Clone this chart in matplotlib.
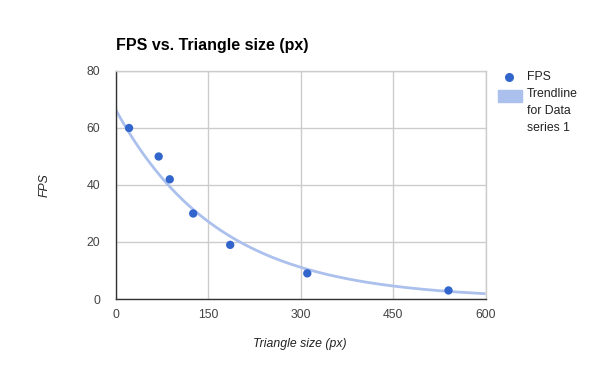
import numpy as np
import matplotlib.pyplot as plt
from matplotlib.patches import Rectangle
from matplotlib.lines import Line2D

plt.rcParams['font.family'] = ['Liberation Sans', 'DejaVu Sans']

tri_size = [22, 70, 88, 126, 186, 311, 540]
fps = [60, 50, 42, 30, 19, 9, 3]
x_ticks = [0, 150, 300, 450, 600]
y_ticks = [0, 20, 40, 60, 80]

BLUE, TREND, GRID, AXIS, TEXT = '#3366CC', '#ABC0EC', '#CCCCCC', '#333333', '#444444'

# exponential trendline fitted to the data (least squares on log y)
slope, icpt = np.polyfit(tri_size, np.log(fps), 1)
xs = np.linspace(0, 600, 200)
trend = np.exp(icpt + slope * xs)

W, H = 600, 371
fig = plt.figure(figsize=(6, 3.71), dpi=100)
ax = fig.add_axes([115.5 / W, 1 - 299 / H, 370 / W, 228 / H])

ax.plot(xs, trend, color=TREND, lw=2, zorder=2, solid_capstyle='butt')
ax.scatter(tri_size, fps, s=36, color=BLUE, edgecolors='none', zorder=3, clip_on=False)

ax.set_xlim(0, 600)
ax.set_ylim(0, 80)
ax.set_xticks(x_ticks)
ax.set_yticks(y_ticks)
ax.tick_params(length=0, labelsize=8.8, colors=TEXT)
ax.tick_params(axis='y', pad=11)
ax.tick_params(axis='x', pad=7)
ax.grid(True, color=GRID, lw=1)
ax.set_axisbelow(True)
for s in ['top', 'right']:
    ax.spines[s].set_color(GRID)
    ax.spines[s].set_linewidth(1)
for s in ['left', 'bottom']:
    ax.spines[s].set_color(AXIS)
    ax.spines[s].set_linewidth(1)

fig.text(116 / W, 1 - 50 / H, 'FPS vs. Triangle size (px)', fontsize=11.5, fontweight='bold', color='#000000', ha='left', va='baseline')
fig.text(300 / W, 1 - 344 / H, 'Triangle size (px)', fontsize=8.8, style='italic', color='#222222', ha='center', va='center')
fig.text(45 / W, 1 - 185 / H, 'FPS', fontsize=8.8, style='italic', color='#222222', ha='center', va='center', rotation=90)

# legend
fig.add_artist(Line2D([509 / W], [1 - 76.5 / H], marker='o', ms=6.5, color=BLUE, mec='none', transform=fig.transFigure))
fig.text(527 / W, 1 - 76.5 / H, 'FPS', fontsize=8.8, color='#222222', ha='left', va='center')
fig.add_artist(Rectangle((498 / W, 1 - 102 / H), 24 / W, 12 / H, color=TREND, transform=fig.transFigure))
fig.text(527 / W, 1 - 88 / H, 'Trendline\nfor Data\nseries 1', fontsize=8.8, color='#222222', ha='left', va='top', linespacing=1.55)

fig.savefig('out.png', dpi=100, facecolor='white')
